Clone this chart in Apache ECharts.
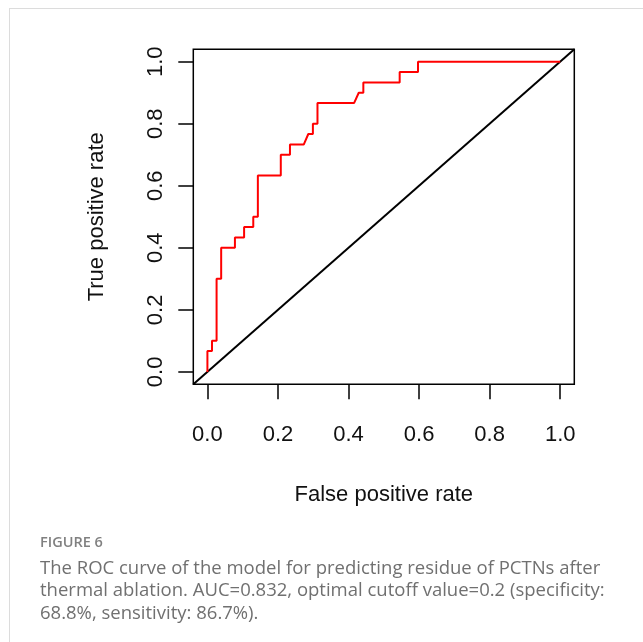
<!DOCTYPE html>
<html><head><meta charset="utf-8">
<script src="https://cdn.jsdelivr.net/npm/echarts@6/dist/echarts.min.js"></script>
<style>html,body{margin:0;padding:0;background:#fff}#c{width:643px;height:642px}</style>
</head><body><div id="c"></div>
<script>
// ROC curve points (false positive rate, true positive rate)
const fpr = [0, 0, 0.013, 0.013, 0.026, 0.026, 0.039, 0.039, 0.078, 0.078, 0.104, 0.104, 0.130, 0.130, 0.143, 0.143, 0.208, 0.208, 0.234, 0.234, 0.273, 0.286, 0.299, 0.299, 0.312, 0.312, 0.416, 0.429, 0.442, 0.442, 0.545, 0.545, 0.597, 0.597, 1.0];
const tpr = [0, 0.067, 0.067, 0.100, 0.100, 0.300, 0.300, 0.400, 0.400, 0.433, 0.433, 0.467, 0.467, 0.500, 0.500, 0.633, 0.633, 0.700, 0.700, 0.733, 0.733, 0.767, 0.767, 0.800, 0.800, 0.867, 0.867, 0.900, 0.900, 0.933, 0.933, 0.967, 0.967, 1.0, 1.0];
// reference diagonal (abline 0,1) across the full plot region
const diagX = [-0.04, 1.04];
const diagY = [-0.04, 1.04];
const tickValues = [0, 0.2, 0.4, 0.6, 0.8, 1.0];
const xTitle = 'False positive rate';
const yTitle = 'True positive rate';
const figLabel = 'FIGURE 6';
const captionLines = [
  'The ROC curve of the model for predicting residue of PCTNs after',
  'thermal ablation. AUC=0.832, optimal cutoff value=0.2 (specificity:',
  '68.8%, sensitivity: 86.7%).'
];

const rocData = fpr.map((x, i) => [x, tpr[i]]);
const diagData = diagX.map((x, i) => [x, diagY[i]]);
const FONT = 'Liberation Sans, Arial, sans-serif';

const axisCommon = {
  type: 'value', min: -0.04, max: 1.04,
  axisLine: { show: false, onZero: false },
  splitLine: { show: false },
  axisTick: { show: true, customValues: tickValues, length: 15, inside: false, lineStyle: { color: '#000', width: 1.5 } },
  axisLabel: { customValues: tickValues, formatter: v => v.toFixed(1), color: '#111', fontSize: 22, fontFamily: FONT },
  nameLocation: 'middle',
  nameTextStyle: { color: '#111', fontSize: 22, fontFamily: FONT }
};

const chart = echarts.init(document.getElementById('c'), null, { renderer: 'canvas' });
chart.setOption({
  backgroundColor: '#fff',
  animation: false,
  grid: { left: 193.3, right: 68.7, top: 49.3, bottom: 257.7, show: true, borderColor: '#000', borderWidth: 1.5, backgroundColor: 'transparent' },
  xAxis: Object.assign({}, axisCommon, {
    name: xTitle, nameGap: 100,
    axisLabel: Object.assign({}, axisCommon.axisLabel, { margin: 40 })
  }),
  yAxis: Object.assign({}, axisCommon, {
    name: yTitle, nameGap: 85,
    axisLabel: Object.assign({}, axisCommon.axisLabel, { margin: 26, rotate: 90 })
  }),
  series: [
    { type: 'line', data: diagData, showSymbol: false, lineStyle: { color: '#000', width: 2 }, silent: true },
    { type: 'line', data: rocData, showSymbol: false, lineStyle: { color: '#ff0000', width: 2 }, silent: true }
  ],
  graphic: [
    { type: 'line', shape: { x1: 9, y1: 8.5, x2: 643, y2: 8.5 }, style: { stroke: '#dcdcdc', lineWidth: 1 } },
    { type: 'line', shape: { x1: 9.5, y1: 8, x2: 9.5, y2: 642 }, style: { stroke: '#dcdcdc', lineWidth: 1 } },
    { type: 'text', left: 40, top: 535, style: { text: figLabel, fill: '#808080', font: '600 14.5px "Open Sans", sans-serif' } },
    { type: 'text', left: 40, top: 557, style: { text: captionLines.join('\n'), fill: '#707070', font: '18.5px "Open Sans", sans-serif', lineHeight: 22.5 } }
  ]
});
</script></body></html>
